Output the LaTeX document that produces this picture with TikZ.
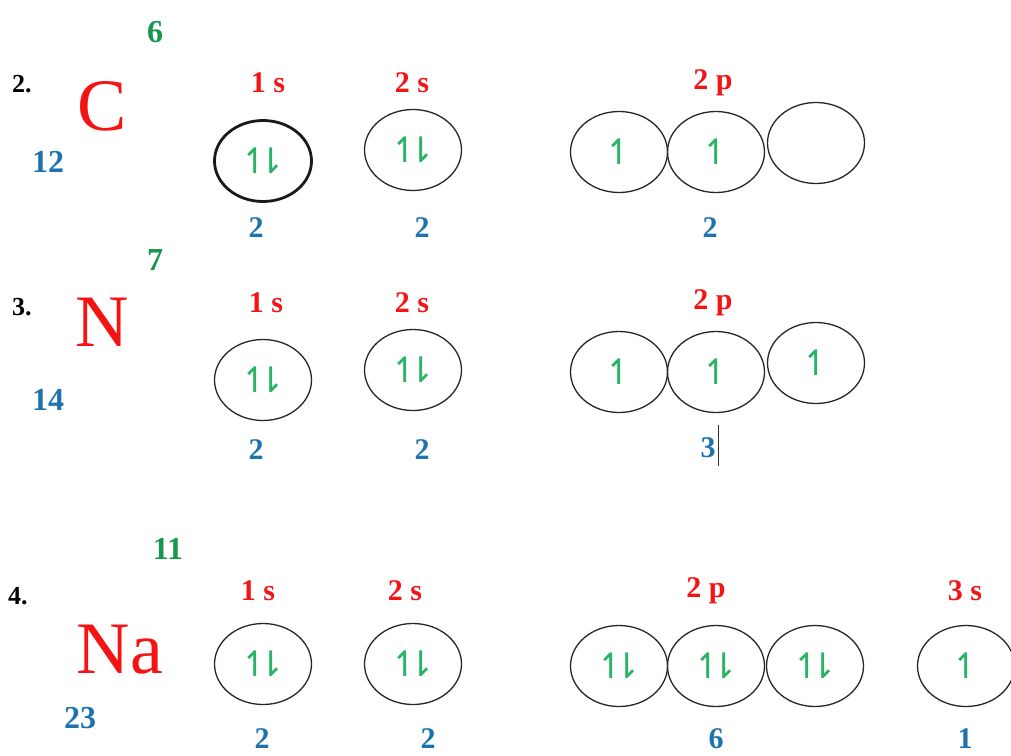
\documentclass[tikz,border=0pt]{standalone}
\usepackage{fontspec}
\setmainfont{Liberation Serif}
\newfontfamily\arrowfont{DejaVu Sans}
\usetikzlibrary{shapes.geometric}
\definecolor{elred}{RGB}{245,20,20}
\definecolor{elgreen}{RGB}{22,150,80}
\definecolor{arrgreen}{RGB}{40,180,100}
\definecolor{elblue}{RGB}{30,115,175}
\tikzset{
  orb/.style={draw=black!85, line width=1.3pt, ellipse, minimum width=97pt, minimum height=81pt, inner sep=0pt,
    text=arrgreen, font=\arrowfont\fontsize{35}{38}\selectfont},
  thickorb/.style={orb, line width=2.8pt, draw=black!90},
  sub/.style={text=elred, font=\bfseries\fontsize{30}{34}\selectfont, inner sep=0pt},
  cnt/.style={text=elblue, font=\bfseries\fontsize{30}{34}\selectfont, inner sep=0pt},
  zz/.style={text=elgreen, font=\bfseries\fontsize{32}{36}\selectfont, inner sep=0pt},
  mass/.style={text=elblue, font=\bfseries\fontsize{32}{36}\selectfont, inner sep=0pt},
  sym/.style={text=elred, font=\fontsize{74}{80}\selectfont, inner sep=0pt},
  num/.style={text=black, font=\bfseries\fontsize{26}{30}\selectfont, inner sep=0pt}
}
\newcommand{\pair}{↿\kern-13pt⇂}
\newcommand{\one}{↿}
\begin{document}
\begin{tikzpicture}[x=1pt,y=-1pt]
\useasboundingbox (0,0) rectangle (1011,755);
% ---------- Row 1: C ----------
\node[zz] (z1) at (155,32) {6};
\node[num] (n1) at (22,84) {2.};
\node[sym] (s1) at (102,106) {C};
\node[mass] (m1) at (48,162) {12};
\node[sub] (l11) at (268,83) {1 s};
\node[sub] (l12) at (412,83) {2 s};
\node[sub] (l13) at (713,83) {2 p};
\node[thickorb] (o11) at (263,161) {\pair};
\node[orb] (o12) at (413,150) {\pair};
\node[orb] (o13) at (619,152) {\one};
\node[orb] (o14) at (716,152) {\one};
\node[orb] (o15) at (816,143) {};
\node[cnt] (c11) at (256,228) {2};
\node[cnt] (c12) at (422,228) {2};
\node[cnt] (c13) at (710,228) {2};
% ---------- Row 2: N ----------
\node[zz] (z2) at (155,260) {7};
\node[num] (n2) at (22,307) {3.};
\node[sym] (s2) at (102,322) {N};
\node[mass] (m2) at (48,400) {14};
\node[sub] (l21) at (266,303) {1 s};
\node[sub] (l22) at (412,303) {2 s};
\node[sub] (l23) at (713,303) {2 p};
\node[orb] (o21) at (263,380) {\pair};
\node[orb] (o22) at (413,370) {\pair};
\node[orb] (o23) at (619,372) {\one};
\node[orb] (o24) at (716,372) {\one};
\node[orb] (o25) at (816,363) {\one};
\node[cnt] (c21) at (256,450) {2};
\node[cnt] (c22) at (422,450) {2};
\node[cnt] (c23) at (708,448) {3};
\coordinate (cur1) at (718,425);
\coordinate (cur2) at (718,466);
\draw[line width=0.9pt, black!80] (cur1) -- (cur2);
% ---------- Row 3: Na ----------
\node[zz] (z3) at (168,549) {11};
\node[num] (n3) at (18,596) {4.};
\node[sym] (s3) at (120,650) {Na};
\node[mass] (m3) at (80,718) {23};
\node[sub] (l31) at (258,591) {1 s};
\node[sub] (l32) at (405,591) {2 s};
\node[sub] (l33) at (706,591) {2 p};
\node[sub] (l34) at (965,591) {3 s};
\node[orb] (o31) at (263,664) {\pair};
\node[orb] (o32) at (413,664) {\pair};
\node[orb] (o33) at (619,666) {\pair};
\node[orb] (o34) at (716,666) {\pair};
\node[orb] (o35) at (815,666) {\pair};
\node[orb] (o36) at (966,666) {\one};
\node[cnt] (c31) at (262,739) {2};
\node[cnt] (c32) at (428,739) {2};
\node[cnt] (c33) at (716,739) {6};
\node[cnt] (c34) at (965,739) {1};
\end{tikzpicture}
\end{document}
